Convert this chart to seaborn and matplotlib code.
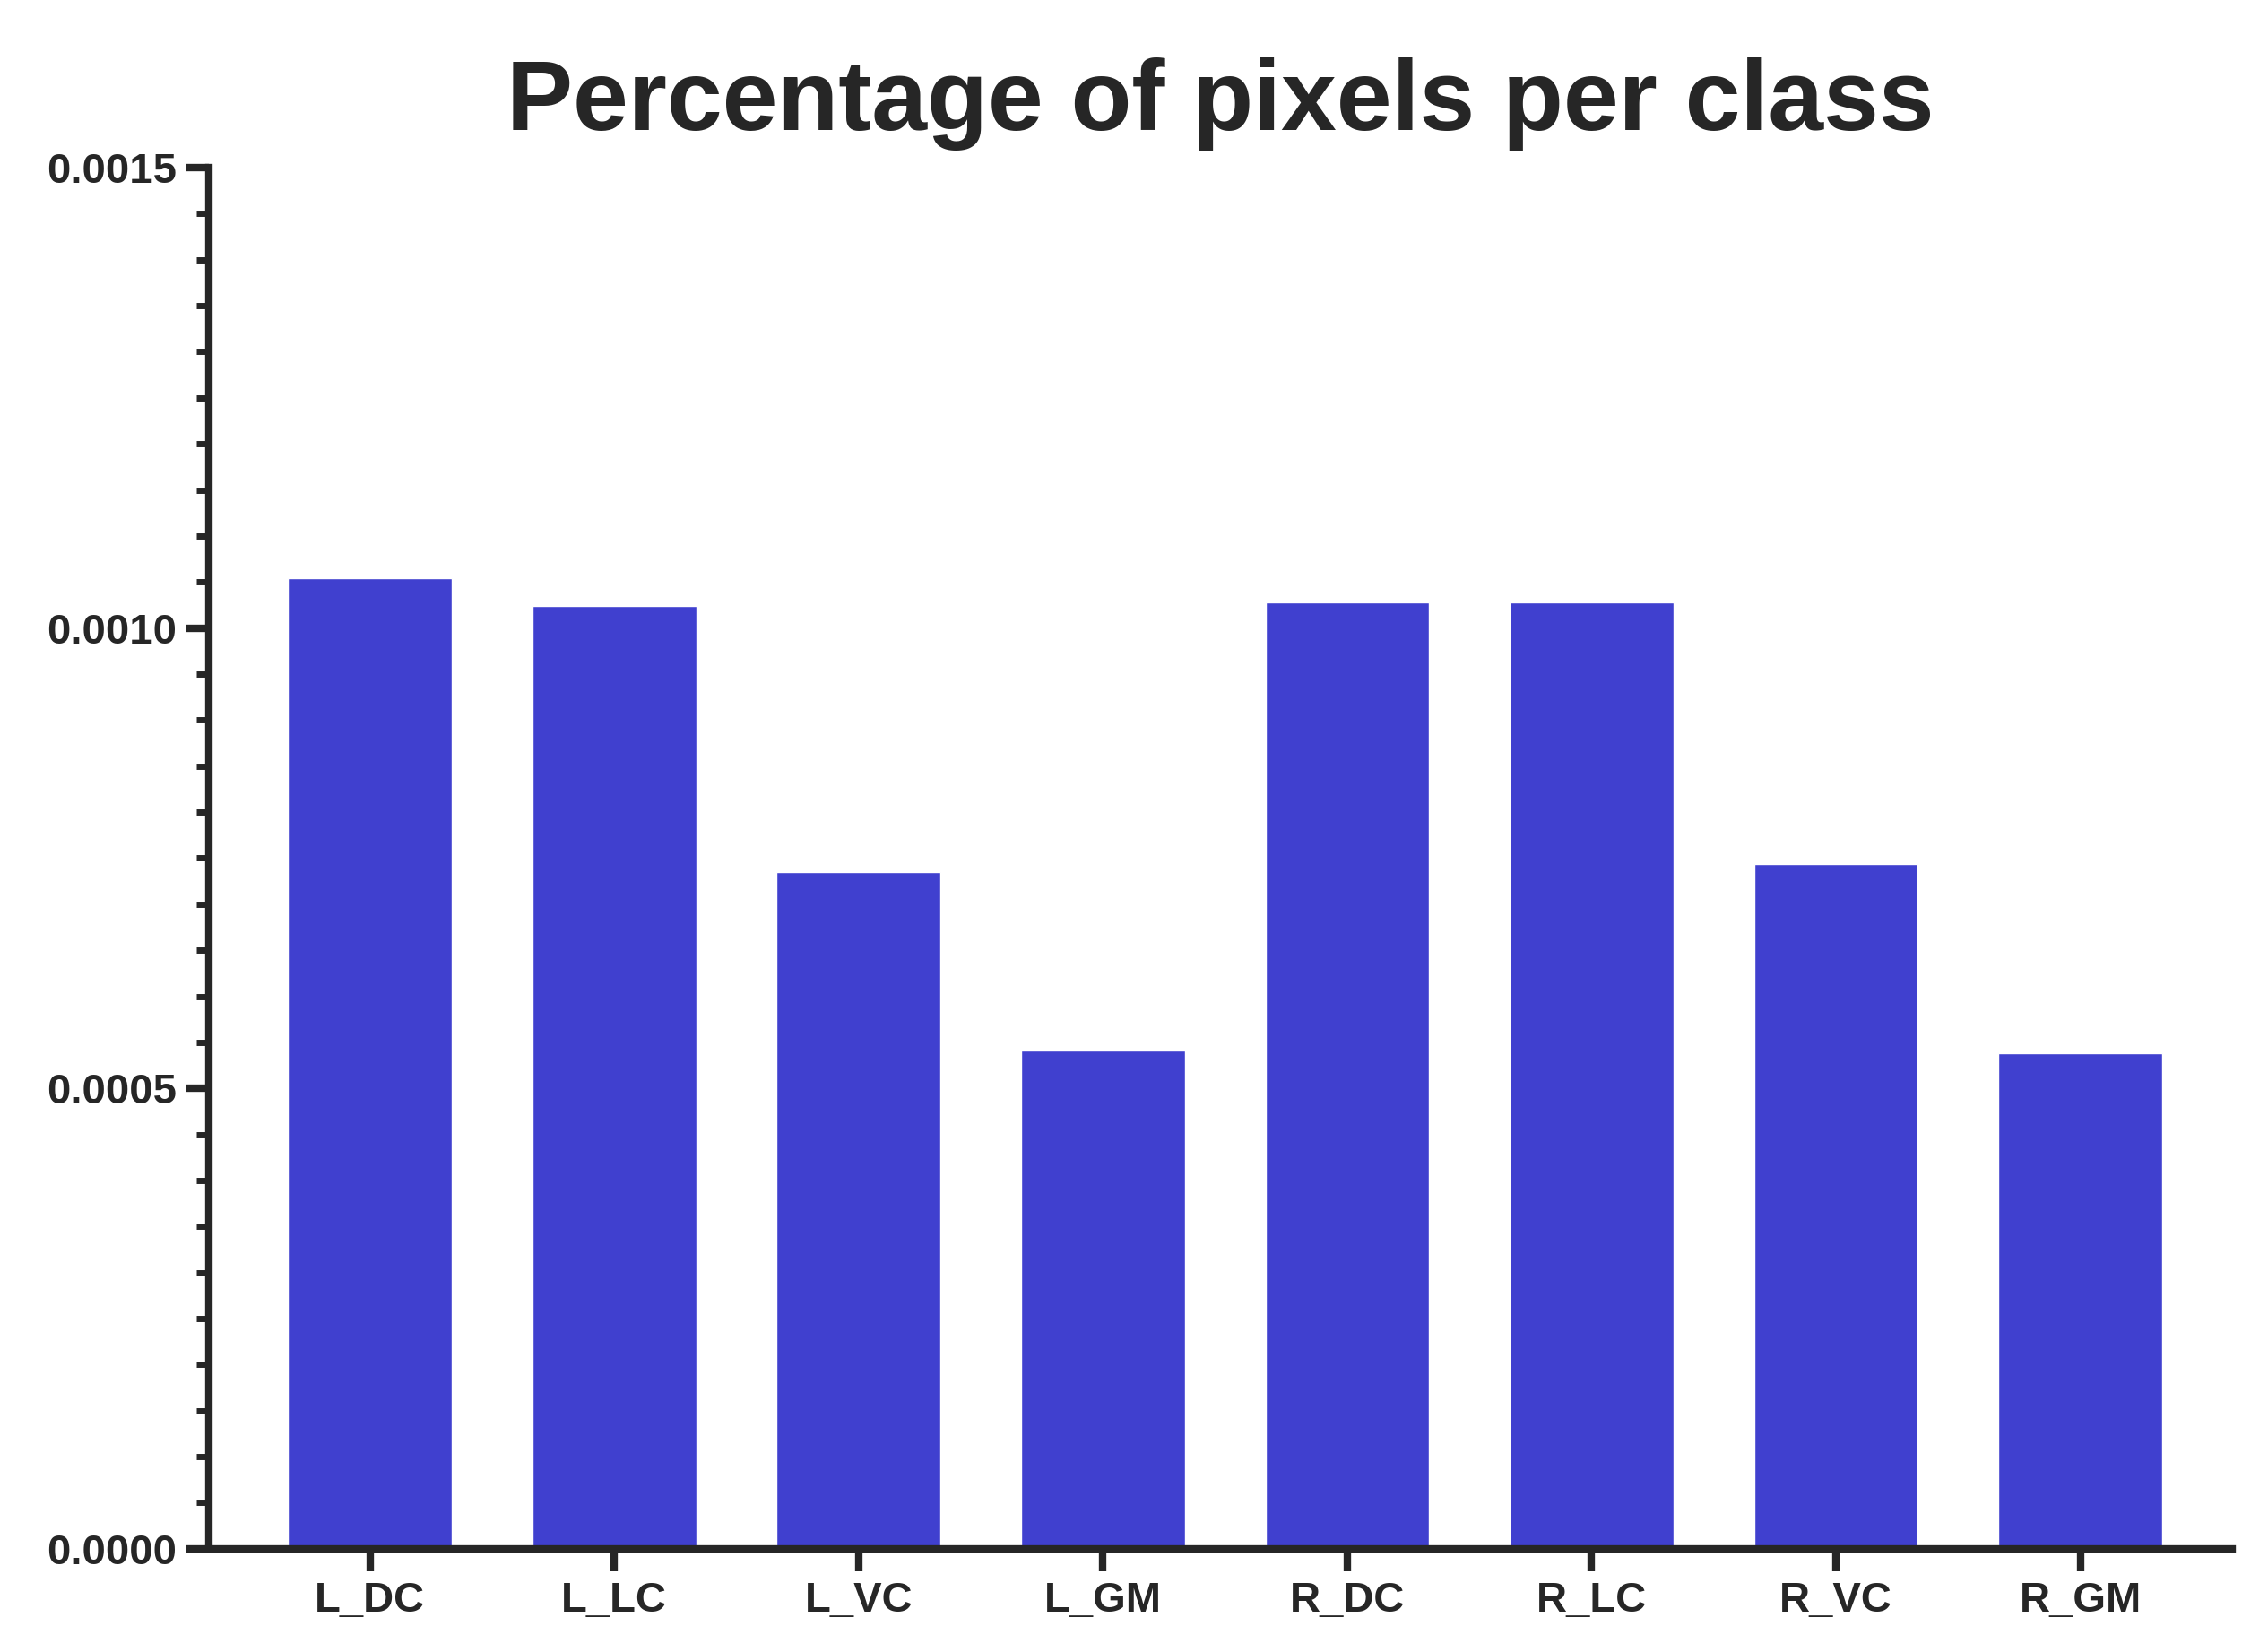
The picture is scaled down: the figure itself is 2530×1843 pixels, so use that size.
import matplotlib.pyplot as plt
import seaborn as sns
from matplotlib.ticker import MultipleLocator, FormatStrFormatter

sns.set_style("ticks")
plt.rcParams['font.family'] = ['Liberation Sans', 'DejaVu Sans']
plt.rcParams['font.weight'] = 'bold'

classes = ['L_DC', 'L_LC', 'L_VC', 'L_GM', 'R_DC', 'R_LC', 'R_VC', 'R_GM']
values = [0.001054, 0.001024, 0.000735, 0.000541, 0.001028, 0.001028, 0.000744, 0.000538]

fig = plt.figure(figsize=(25.3, 18.43), dpi=100)
ax = fig.add_axes([0.092, 0.0625, 0.892, 0.836])

sns.barplot(x=classes, y=values, color='#4040cf', saturation=1, width=0.67, ax=ax)

ax.set_xlim(-0.66, 7.62)
ax.set_ylim(0, 0.0015)
ax.yaxis.set_major_locator(MultipleLocator(0.0005))
ax.yaxis.set_minor_locator(MultipleLocator(0.00005))
ax.yaxis.set_major_formatter(FormatStrFormatter('%.4f'))

for s in ['top', 'right']:
    ax.spines[s].set_visible(False)
for s in ['left', 'bottom']:
    ax.spines[s].set_linewidth(6)
ax.tick_params(axis='both', which='major', width=6, length=18, labelsize=34, pad=8)
ax.tick_params(axis='y', which='minor', width=5, length=10)
for lab in ax.get_xticklabels() + ax.get_yticklabels():
    lab.set_fontweight('bold')

ax.set_title('Percentage of pixels per class', fontsize=80, fontweight='bold', pad=30)
ax.set_xlabel('')
ax.set_ylabel('')

fig.savefig('out.png', dpi=100)
